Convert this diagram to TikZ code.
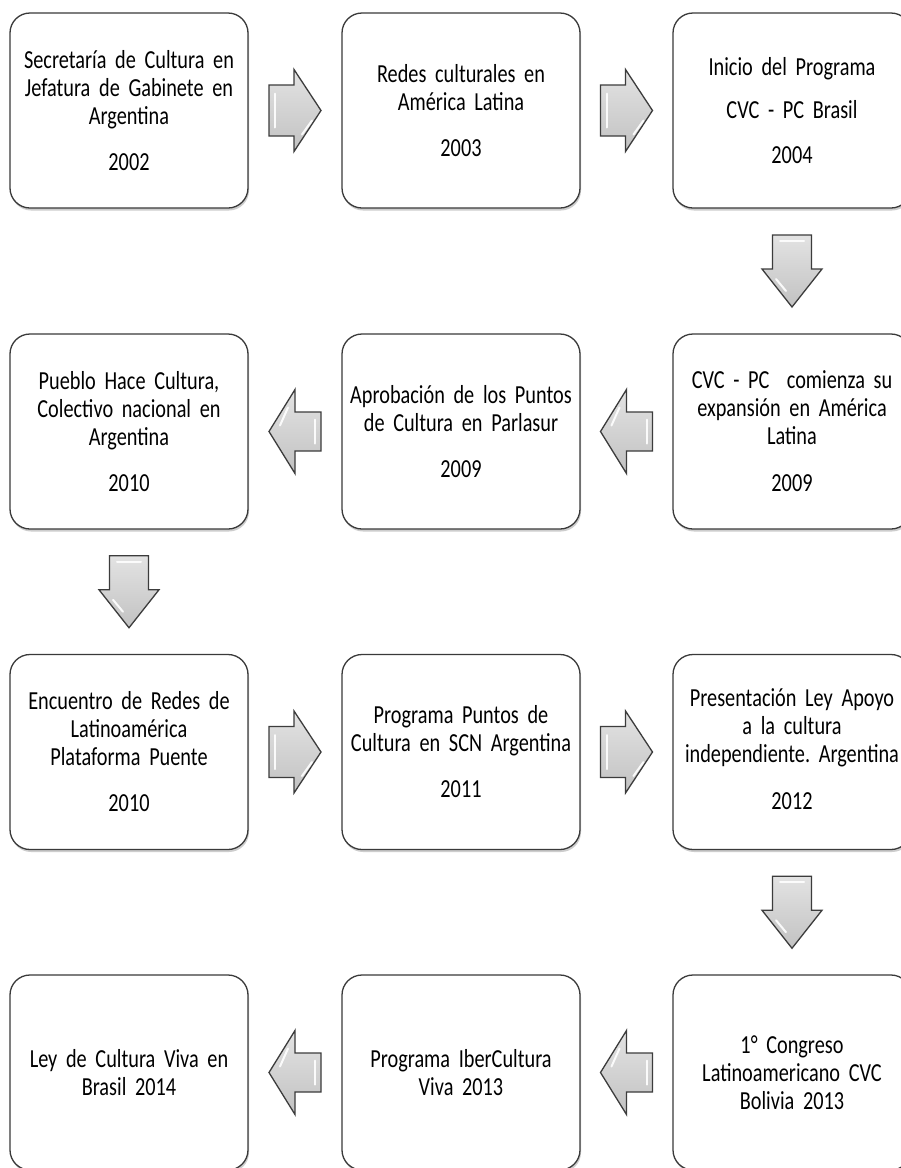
\documentclass[tikz,border=0pt]{standalone}
\usepackage{fontspec}
\setmainfont{Carlito}[FakeStretch=0.78,WordSpace=0.7]
\usetikzlibrary{calc,shadows}
\definecolor{boxline}{HTML}{3A3A3A}
\definecolor{arrline}{HTML}{3C3C3C}
\frenchspacing
\begin{document}
\begin{tikzpicture}[x=1pt,y=-1pt,
  card/.style={draw=boxline, line width=1.3pt, rounded corners=20pt, fill=white,
    minimum width=238pt, minimum height=195pt, text width=234pt, align=center,
    inner sep=0pt, font=\fontsize{26}{28}\selectfont\frenchspacing,
    drop shadow={opacity=0.28, shadow xshift=1pt, shadow yshift=-2.5pt, fill=black!70}},
  blk/.style={draw=arrline, line width=1.3pt, line join=miter, top color=gray!22, bottom color=gray!48},
  glint/.style={white, line width=2pt, line cap=round, opacity=0.9},
  rarr/.pic={
    \path[blk] (-26,-25.5) -- (-1,-25.5) -- (-1,-41) -- (26,0) -- (-1,41) -- (-1,25.5) -- (-26,25.5) -- cycle;
    \draw[glint] (-20,-17) -- (-20,17);
    \draw[glint] (17,10) -- (7,24);
  },
  larr/.pic={
    \path[blk] (26,-19.5) -- (0,-19.5) -- (0,-42) -- (-26,0) -- (0,42) -- (0,19.5) -- (26,19.5) -- cycle;
    \draw[glint] (20,-12) -- (20,12);
    \draw[glint] (-15,-6) -- (-7,-24);
  },
  darr/.pic={
    \path[blk] (-19.5,-36) -- (19.5,-36) -- (19.5,-2) -- (30,-2) -- (0,36) -- (-30,-2) -- (-19.5,-2) -- cycle;
    \draw[glint] (-12,-30) -- (12,-30);
    \draw[glint] (-16,8) -- (-6,20);
  }
]
\clip (0,0) rectangle (901,1168);
\fill[white] (0,0) rectangle (901,1168);

% row 1
\node[card] (b11) at (129,110.5) {Secretaría de Cultura en\\Jefatura de Gabinete en\\Argentina\\[18pt]2002};
\node[card] (b12) at (461,110.5) {Redes culturales en\\América Latina\\[18pt]2003};
\node[card] (b13) at (792,110.5) {Inicio del Programa\\[15pt]CVC - PC Brasil\\[17pt]2004};
% row 2
\node[card] (b21) at (129,431.5) {Pueblo Hace Cultura,\\Colectivo nacional en\\Argentina\\[18pt]2010};
\node[card] (b22) at (461,431.5) {Aprobación de los Puntos\\de Cultura en Parlasur\\[18pt]2009};
\node[card] (b23) at (792,431.5) {CVC - PC\ \ comienza su\\expansión en América\\Latina\\[19pt]2009};
% row 3
\node[card] (b31) at (129,752) {Encuentro de Redes de\\Latinoamérica\\Plataforma Puente\\[18pt]2010};
\node[card] (b32) at (461,752) {Programa Puntos de\\Cultura en SCN Argentina\\[18pt]2011};
\node[card] (b33) at (792,752) {\begin{tabular}{@{}c@{}}Presentación Ley Apoyo\\a la cultura\\independiente. Argentina\\[19pt]2012\end{tabular}\hspace*{7pt}};
% row 4
\node[card] (b41) at (129,1072.5) {Ley de Cultura Viva en\\Brasil 2014};
\node[card] (b42) at (461,1072.5) {Programa IberCultura\\Viva 2013};
\node[card] (b43) at (792,1072.5) {1° Congreso\\Latinoamericano CVC\\Bolivia 2013};

% block arrows
\pic (a1) at ($(b11.east)!0.5!(b12.west)$) {rarr};
\pic (a2) at ($(b12.east)!0.5!(b13.west)$) {rarr};
\pic (d1) at ($(b13.south)!0.5!(b23.north)$) {darr};
\pic (a3) at ($(b23.west)!0.5!(b22.east)$) {larr};
\pic (a4) at ($(b22.west)!0.5!(b21.east)$) {larr};
\pic (d2) at ($(b21.south)!0.5!(b31.north)$) {darr};
\pic (a5) at ($(b31.east)!0.5!(b32.west)$) {rarr};
\pic (a6) at ($(b32.east)!0.5!(b33.west)$) {rarr};
\pic (d3) at ($(b33.south)!0.5!(b43.north)$) {darr};
\pic (a7) at ($(b43.west)!0.5!(b42.east)$) {larr};
\pic (a8) at ($(b42.west)!0.5!(b41.east)$) {larr};
\end{tikzpicture}
\end{document}
